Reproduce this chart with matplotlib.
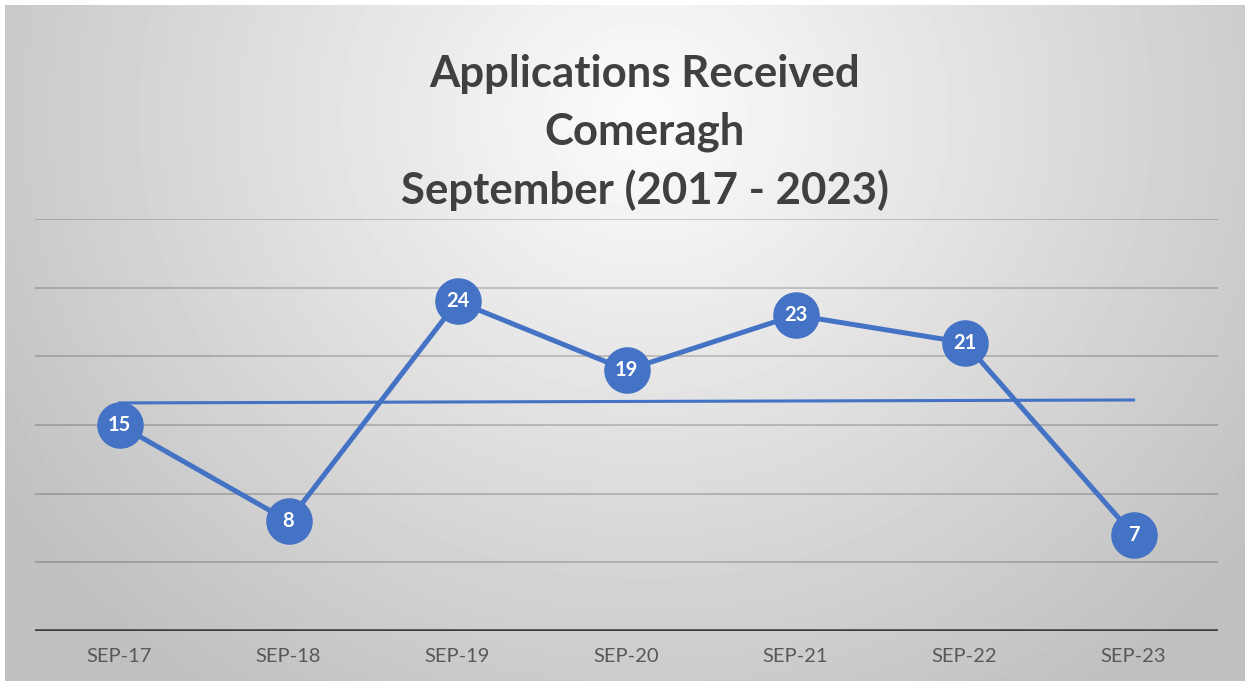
import numpy as np
import matplotlib.pyplot as plt

categories = ["SEP-17", "SEP-18", "SEP-19", "SEP-20", "SEP-21", "SEP-22", "SEP-23"]
applications = [15, 8, 24, 19, 23, 21, 7]
title_lines = ["Applications Received", "Comeragh", "September (2017 - 2023)"]

W, H = 1245, 681
blue = "#4472C4"

fig = plt.figure(figsize=(W / 100, H / 100), dpi=100, facecolor="white")

# soft radial gradient behind the chart, like the Excel chart area
bg = fig.add_axes([5 / W, 0, 1 - 5 / W, 1 - 5 / H], zorder=0)
yy, xx = np.mgrid[0:H - 5, 0:W - 5]
r = np.sqrt(((xx - 640) / 700.0) ** 2 + ((yy - 110) / 640.0) ** 2)
shade = np.clip(252 - 55 * r, 192, 252) / 255.0
bg.imshow(shade, cmap="gray", vmin=0, vmax=1, aspect="auto", interpolation="bilinear")
bg.axis("off")

ax = fig.add_axes([35 / W, 1 - 631 / H, (1218 - 35) / W, (631 - 219) / H], zorder=1)
ax.patch.set_alpha(0)

x = np.arange(len(categories))

# gridlines
for v in [5, 10, 15, 20, 25, 30]:
    ax.axhline(v, color="black", alpha=0.2, linewidth=1.3, zorder=1)
ax.axhline(0, color="#404040", linewidth=2.6, zorder=2)

# linear trendline
slope, intercept = np.polyfit(x, applications, 1)
ax.plot(x, slope * x + intercept, color=blue, linewidth=2.2, zorder=3)

ax.plot(x, applications, color=blue, linewidth=3.6, marker="o",
        markersize=32.5, markerfacecolor=blue, markeredgecolor=blue, zorder=4)

for xi, v in zip(x, applications):
    ax.text(xi, v, str(v), color="white", fontsize=14.5, fontweight="bold",
            family="Lato", ha="center", va="center", zorder=5)

ax.set_xlim(-0.5, len(categories) - 0.5)
ax.set_ylim(0, 30)
ax.set_xticks(x)
ax.set_xticklabels(categories, family="Lato", fontsize=14.5, color="#595959")
ax.tick_params(axis="x", length=0, pad=12)
ax.set_yticks([])
for s in ax.spines.values():
    s.set_visible(False)

for i, line in enumerate(title_lines):
    fig.text(645 / W, 1 - (74 + 58 * i) / H, line, ha="center", va="center",
             fontsize=31.5, fontweight="bold", family="Lato", color="#404040")

fig.savefig("out.png", dpi=100)
